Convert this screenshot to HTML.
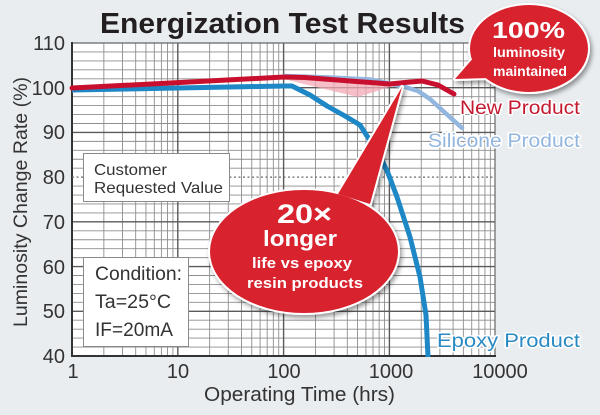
<!DOCTYPE html>
<html>
<head>
<meta charset="utf-8">
<style>
html,body{margin:0;padding:0;background:#e9edf0;}
svg{display:block;}
text{font-family:"Liberation Sans",Arial,sans-serif;}
</style>
</head>
<body>
<svg width="600" height="415" viewBox="0 0 600 415" xmlns="http://www.w3.org/2000/svg">
<defs>
<filter id="sh" x="-20%" y="-20%" width="150%" height="150%">
<feDropShadow dx="2" dy="3" stdDeviation="2.5" flood-color="#000" flood-opacity="0.4"/>
</filter>
</defs>
<rect x="0" y="0" width="600" height="415" fill="#e9edf0"/>

<!-- Title -->
<text x="100" y="33" font-size="29" font-weight="bold" fill="#231f20" textLength="365" lengthAdjust="spacingAndGlyphs">Energization Test Results</text>

<!-- plot area -->
<rect x="72" y="43" width="423" height="313" fill="#ffffff"/>

<!-- horizontal minor grid -->
<path stroke="#8e8e8e" stroke-width="0.9" fill="none" d="
M72,51.94H495 M72,60.89H495 M72,69.83H495 M72,78.77H495
M72,96.66H495 M72,105.6H495 M72,114.54H495 M72,123.49H495
M72,141.37H495 M72,150.31H495 M72,159.26H495 M72,168.2H495
M72,186.09H495 M72,195.03H495 M72,203.97H495 M72,212.91H495
M72,230.8H495 M72,239.74H495 M72,248.69H495 M72,257.63H495
M72,275.51H495 M72,284.46H495 M72,293.4H495 M72,302.34H495
M72,320.23H495 M72,329.17H495 M72,338.11H495 M72,347.06H495"/>
<!-- vertical minor grid -->
<path stroke="#8e8e8e" stroke-width="0.9" fill="none" d="
M103.85,43V356 M122.48,43V356 M135.69,43V356 M145.95,43V356 M154.31,43V356 M161.4,43V356 M167.54,43V356 M172.93,43V356
M209.65,43V356 M228.28,43V356 M241.49,43V356 M251.75,43V356 M260.11,43V356 M267.2,43V356 M273.34,43V356 M278.73,43V356
M315.45,43V356 M334.08,43V356 M347.29,43V356 M357.55,43V356 M365.91,43V356 M373,43V356 M379.14,43V356 M384.53,43V356
M421.25,43V356 M439.88,43V356 M453.09,43V356 M463.35,43V356 M471.71,43V356 M478.8,43V356 M484.94,43V356 M490.33,43V356"/>
<!-- major grid -->
<path stroke="#5a5a5a" stroke-width="1.4" fill="none" d="
M72,87.71H495 M72,132.43H495 M72,221.86H495 M72,266.57H495 M72,311.29H495
M177.8,43V356 M283.6,43V356 M389.4,43V356"/>
<!-- frame -->
<path stroke="#666" stroke-width="1.2" fill="none" d="M72,43H495V356"/>
<path stroke="#333" stroke-width="2" fill="none" d="M72,42V356H496"/>

<!-- customer requested value dotted line -->
<path d="M72,177.14H495" stroke="#6a6a6a" stroke-width="1.2" stroke-dasharray="2,2.5" fill="none"/>

<!-- pink fill region -->
<polygon points="284,79 320,88 358,97 393,86 360,82 320,79" fill="#f3aab4" opacity="0.75"/>

<!-- Silicone line -->
<polyline points="284,76 330,77.5 370,79.5 392,84 405,87 418,91 430,99 442,110 462,128" fill="none" stroke="#93b6df" stroke-width="4.5" stroke-linejoin="round" stroke-linecap="round"/>

<!-- Epoxy line -->
<polyline points="72,90 284,86 292,86 310,95 327,106 345,116 360,125 367,136 378,152 388,173 397,197 410,237 420,277 426,315 428,357" fill="none" stroke="#1e88c7" stroke-width="5" stroke-linejoin="round"/>

<!-- New product line -->
<polyline points="72,88 180,82.5 284,77 305,77.5 350,81 390,84 405,82.5 422,81 438,85 454,94" fill="none" stroke="#c8102e" stroke-width="5" stroke-linejoin="round" stroke-linecap="round"/>

<!-- Customer box -->
<rect x="83.5" y="153.5" width="146" height="48" fill="#ffffff" stroke="#8a8a8a" stroke-width="1"/>
<text x="94" y="175" font-size="16" fill="#333" textLength="73" lengthAdjust="spacingAndGlyphs">Customer</text>
<text x="94" y="193" font-size="16" fill="#333" textLength="129" lengthAdjust="spacingAndGlyphs">Requested Value</text>

<!-- Condition box -->
<rect x="83.5" y="257.5" width="105" height="89" fill="#ffffff" stroke="#8a8a8a" stroke-width="1"/>
<text x="95" y="280" font-size="19" fill="#333" textLength="87" lengthAdjust="spacingAndGlyphs">Condition:</text>
<text x="95" y="308" font-size="19" fill="#333" textLength="76" lengthAdjust="spacingAndGlyphs">Ta=25°C</text>
<text x="95" y="336" font-size="19" fill="#333" textLength="78" lengthAdjust="spacingAndGlyphs">IF=20mA</text>

<!-- Big bubble -->
<g filter="url(#sh)">
<g fill="#ffffff" stroke="#ffffff" stroke-width="4" stroke-linejoin="round">
<ellipse cx="304" cy="251.5" rx="94" ry="61.5"/>
<polygon points="338,194 402,87 370,204"/>
</g>
<g fill="#d8232e">
<ellipse cx="304" cy="251.5" rx="94" ry="61.5"/>
<polygon points="338,194 402,87 370,204"/>
</g>
</g>
<text x="304.5" y="223" font-size="27" font-weight="bold" fill="#fff" text-anchor="middle" textLength="55" lengthAdjust="spacingAndGlyphs">20×</text>
<text x="300" y="246" font-size="22" font-weight="bold" fill="#fff" text-anchor="middle" textLength="74" lengthAdjust="spacingAndGlyphs">longer</text>
<text x="302" y="268" font-size="15" font-weight="bold" fill="#fff" text-anchor="middle" textLength="100" lengthAdjust="spacingAndGlyphs">life vs epoxy</text>
<text x="305" y="288" font-size="15" font-weight="bold" fill="#fff" text-anchor="middle" textLength="116" lengthAdjust="spacingAndGlyphs">resin products</text>

<!-- Top-right bubble -->
<g filter="url(#sh)">
<g fill="#ffffff" stroke="#ffffff" stroke-width="4" stroke-linejoin="round">
<ellipse cx="529" cy="48.5" rx="59" ry="43.5"/>
<polygon points="475,56 455,79 490,78"/>
</g>
<g fill="#d8232e">
<ellipse cx="529" cy="48.5" rx="59" ry="43.5"/>
<polygon points="475,56 455,79 490,78"/>
</g>
</g>
<text x="528.5" y="38" font-size="23" font-weight="bold" fill="#fff" text-anchor="middle" textLength="73" lengthAdjust="spacingAndGlyphs">100%</text>
<text x="529" y="57" font-size="14" font-weight="bold" fill="#fff" text-anchor="middle" textLength="72" lengthAdjust="spacingAndGlyphs">luminosity</text>
<text x="530" y="76" font-size="14" font-weight="bold" fill="#fff" text-anchor="middle" textLength="74" lengthAdjust="spacingAndGlyphs">maintained</text>

<!-- Series labels -->
<g stroke="#ffffff" stroke-width="3" stroke-linejoin="round" style="paint-order:stroke">
<text x="460" y="114" font-size="19" fill="#c41a30" textLength="120" lengthAdjust="spacingAndGlyphs">New Product</text>
<text x="428" y="147" font-size="19" fill="#93b6df" textLength="152" lengthAdjust="spacingAndGlyphs">Silicone Product</text>
<text x="437" y="347" font-size="19" fill="#2a8ac4" textLength="143" lengthAdjust="spacingAndGlyphs">Epoxy Product</text>
</g>

<!-- Y tick labels -->
<g font-size="20" fill="#333" text-anchor="end">
<text x="65" y="50">110</text>
<text x="65" y="95">100</text>
<text x="65" y="139">90</text>
<text x="65" y="184">80</text>
<text x="65" y="229">70</text>
<text x="65" y="274">60</text>
<text x="65" y="318">50</text>
<text x="65" y="363">40</text>
</g>

<!-- X tick labels -->
<g font-size="20" fill="#333" text-anchor="middle">
<text x="73" y="378">1</text>
<text x="178" y="378">10</text>
<text x="284" y="378">100</text>
<text x="391" y="378">1000</text>
<text x="500" y="378">10000</text>
</g>

<!-- Axis titles -->
<text x="204" y="401" font-size="20" fill="#333" textLength="191" lengthAdjust="spacingAndGlyphs">Operating Time (hrs)</text>
<text transform="translate(27,327) rotate(-90)" x="0" y="0" font-size="19" fill="#333" textLength="250" lengthAdjust="spacingAndGlyphs">Luminosity Change Rate (%)</text>
</svg>
</body>
</html>
